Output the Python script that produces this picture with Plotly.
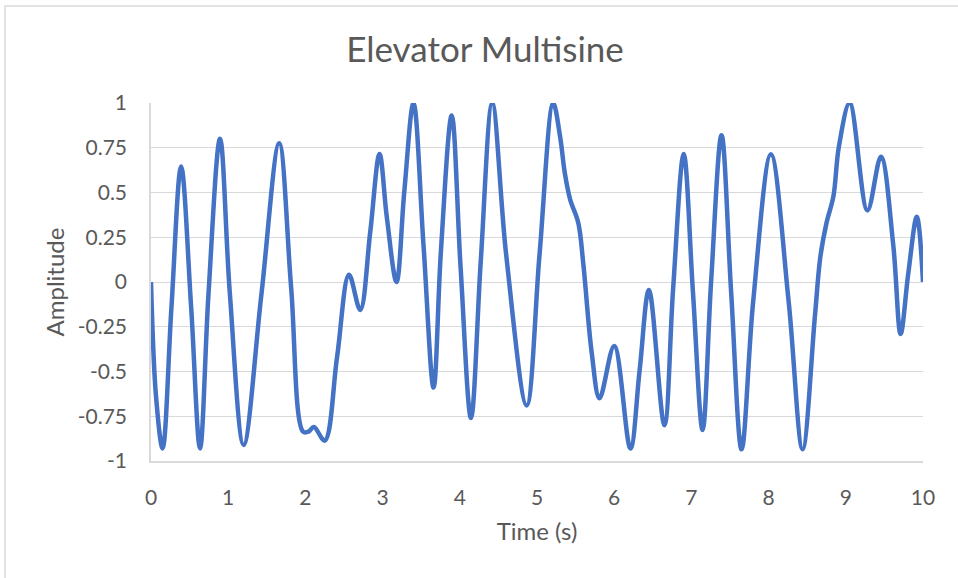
import plotly.graph_objects as go

# Elevator multisine test signal: turning points, flank crossings and shoulders
time_s = [
    0.0, 0.065, 0.15, 0.265, 0.39, 0.52, 0.635, 0.745, 0.894, 1.02,
    1.20, 1.43, 1.66, 1.815, 1.97, 2.04, 2.11, 2.25, 2.41, 2.565,
    2.71, 2.84, 2.96, 3.055, 3.18, 3.28, 3.40, 3.53, 3.66, 3.755,
    3.895, 4.01, 4.145, 4.272, 4.42, 4.60, 4.866, 5.033, 5.21, 5.30,
    5.36, 5.43, 5.535, 5.60, 5.71, 5.81, 6.00, 6.21, 6.33, 6.45,
    6.65, 6.763, 6.90, 7.02, 7.145, 7.255, 7.39, 7.515, 7.65, 7.80,
    8.03, 8.26, 8.44, 8.60, 8.67, 8.75, 8.84, 8.91, 9.05, 9.28,
    9.455, 9.615, 9.71, 9.81, 9.92, 10.0,
]
amplitude = [
    0.0, -0.64, -0.93, -0.14, 0.645, -0.14, -0.93, -0.065, 0.80, -0.055,
    -0.91, -0.07, 0.775, -0.03, -0.836, -0.836, -0.81, -0.886, -0.42, 0.04,
    -0.156, 0.28, 0.715, 0.36, 0.0, 0.5, 1.0, 0.205, -0.59, 0.17,
    0.93, 0.085, -0.76, 0.12, 1.0, 0.155, -0.69, 0.155, 1.0, 0.81,
    0.61, 0.46, 0.33, 0.10, -0.40, -0.65, -0.357, -0.93, -0.49, -0.045,
    -0.80, -0.04, 0.715, -0.056, -0.827, 0.0, 0.82, -0.058, -0.935, -0.11,
    0.713, -0.11, -0.935, -0.19, 0.14, 0.33, 0.48, 0.755, 1.0, 0.40,
    0.70, 0.205, -0.29, 0.05, 0.365, 0.0,
]

x_ticks = [0, 1, 2, 3, 4, 5, 6, 7, 8, 9, 10]
y_ticks = [-1, -0.75, -0.5, -0.25, 0, 0.25, 0.5, 0.75, 1]
y_tick_text = ["-1", "-0.75", "-0.5", "-0.25", "0", "0.25", "0.5", "0.75", "1"]

TEXT = "#595959"
GRID = "#D9D9D9"
BLUE = "#4472C4"
FONT = "Lato, 'Open Sans', sans-serif"

fig = go.Figure()
fig.add_trace(go.Scatter(
    x=time_s, y=amplitude, mode="lines",
    line=dict(color=BLUE, width=4.5, shape="spline", smoothing=1.0),
    showlegend=False, hoverinfo="x+y",
))

fig.update_layout(
    width=958, height=578,
    margin=dict(l=151, r=35, t=103, b=117, autoexpand=False),
    paper_bgcolor="white", plot_bgcolor="white",
    font=dict(family=FONT, color=TEXT, size=21),
    title=dict(text="Elevator Multisine", x=(485 - 0) / 958, xanchor="center",
               y=1 - 50 / 578, yanchor="middle",
               font=dict(family=FONT, size=35, color=TEXT)),
    xaxis=dict(
        range=[0, 10], tickvals=x_ticks, ticktext=[str(v) for v in x_ticks],
        showgrid=False, zeroline=False, showline=True, linecolor=GRID, linewidth=1.5,
        ticks="", ticklabelstandoff=17,
        title=dict(text="Time (s)", standoff=15, font=dict(size=24, color=TEXT)),
        tickfont=dict(size=21, color=TEXT),
    ),
    yaxis=dict(
        range=[-1, 1], tickvals=y_ticks, ticktext=y_tick_text,
        showgrid=True, gridcolor=GRID, gridwidth=1.3,
        zeroline=False, showline=True, linecolor=GRID, linewidth=1.5,
        ticks="", ticklabelstandoff=18,
        title=dict(text="Amplitude", standoff=6, font=dict(size=24, color=TEXT)),
        tickfont=dict(size=21, color=TEXT),
    ),
    shapes=[dict(
        type="rect", xref="paper", yref="paper",
        x0=(5 - 151) / 772, x1=(970 - 151) / 772,
        y0=(461 - 590) / 358, y1=(461 - 6) / 358,
        line=dict(color=GRID, width=1.5), fillcolor="rgba(0,0,0,0)", layer="below",
    )],
)

fig.write_html("out.html")
